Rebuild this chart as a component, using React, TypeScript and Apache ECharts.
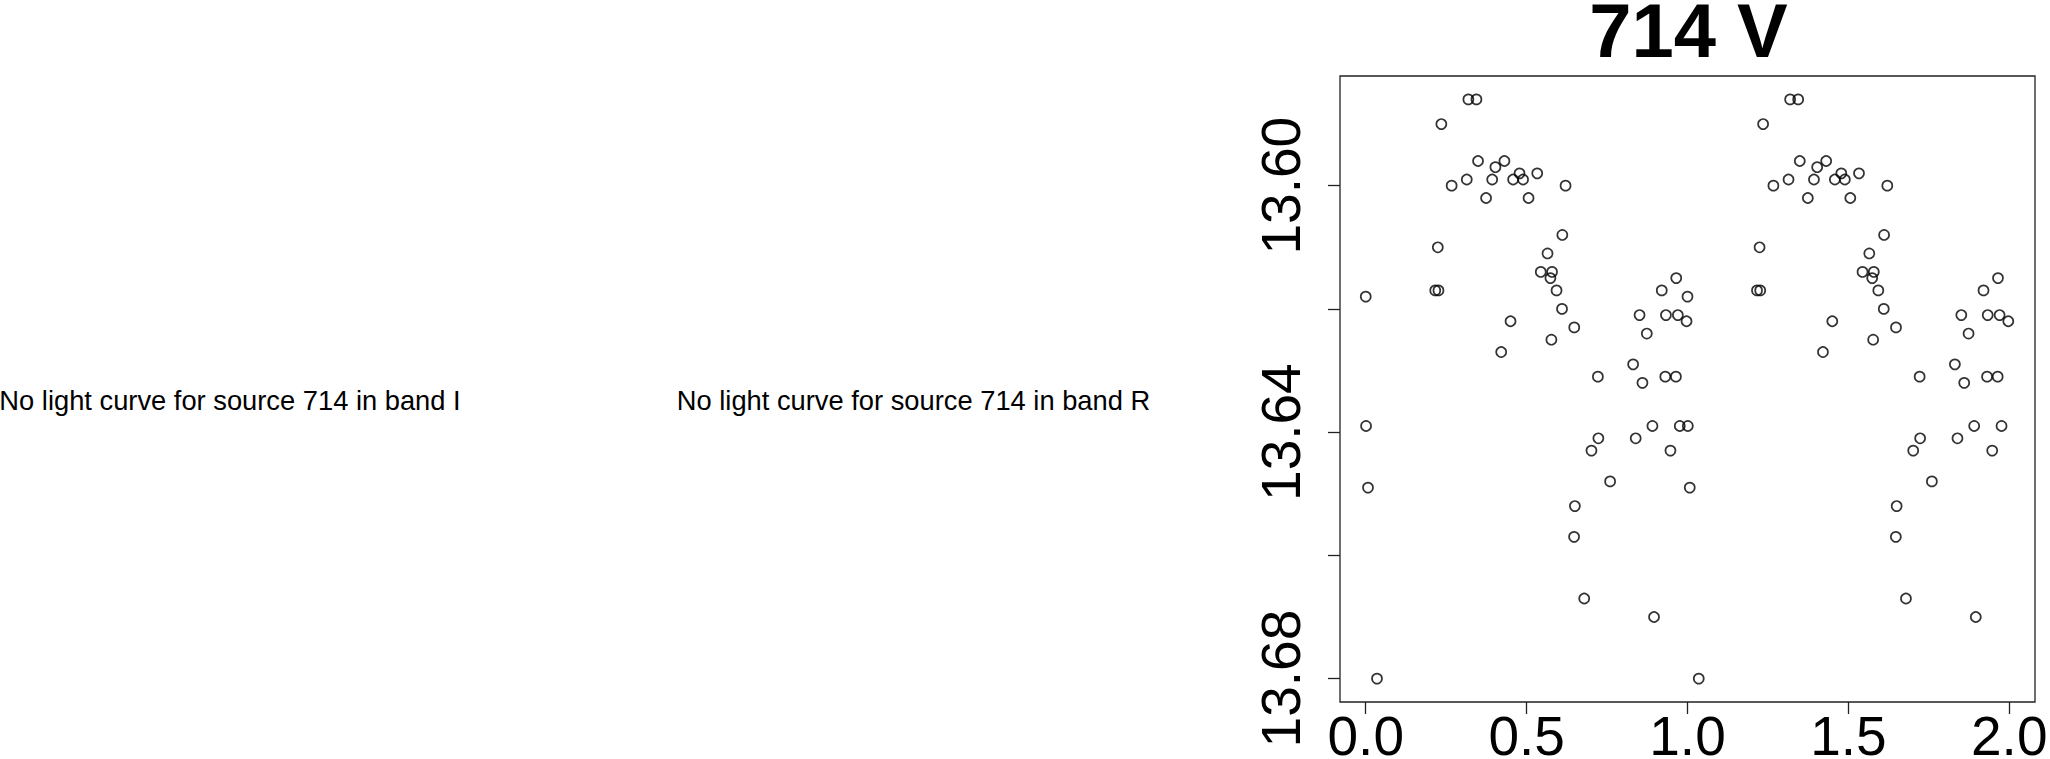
import React, { useEffect, useRef } from "react";
import * as echarts from "echarts";

// Phase-folded V-band light curve of source 714 (phase, magnitude)
const phases: number[] = [
  0.000, 0.001, 0.007, 0.035, 0.216, 0.226, 0.224, 0.235, 0.267, 0.314,
  0.319, 0.344, 0.349, 0.374, 0.393, 0.403, 0.431, 0.421, 0.450, 0.458,
  0.478, 0.489, 0.506, 0.533, 0.544, 0.565, 0.574, 0.579, 0.577, 0.593,
  0.610, 0.611, 0.621, 0.648, 0.650, 0.6475, 0.679, 0.7015, 0.7215, 0.723,
  0.7595, 0.831, 0.839, 0.851, 0.860, 0.8735, 0.891, 0.896, 0.920, 0.931,
  0.933, 0.947, 0.964, 0.965, 0.970, 0.976, 0.997,
];
const mags: number[] = [
  13.618, 13.639, 13.649, 13.680, 13.617, 13.617, 13.610, 13.590, 13.600, 13.599,
  13.586, 13.586, 13.596, 13.602, 13.599, 13.597, 13.596, 13.627, 13.622, 13.599,
  13.598, 13.599, 13.602, 13.598, 13.614, 13.611, 13.615, 13.614, 13.625, 13.617,
  13.620, 13.608, 13.600, 13.623, 13.652, 13.657, 13.667, 13.643, 13.631, 13.641,
  13.648, 13.629, 13.641, 13.621, 13.632, 13.624, 13.639, 13.670, 13.617, 13.631,
  13.621, 13.643, 13.631, 13.615, 13.621, 13.639, 13.622,
];

const xTicks: number[] = [0, 0.5, 1, 1.5, 2];
const yTicks: number[] = [13.6, 13.62, 13.64, 13.66, 13.68];
const yLabels: number[] = [13.6, 13.64, 13.68];

const title = "714 V";
const missingI = "No light curve for source 714 in band I";
const missingR = "No light curve for source 714 in band R";

const FONT = '"Liberation Sans", Arial, Helvetica, sans-serif';

export default function App() {
  const ref = useRef<HTMLDivElement>(null);

  useEffect(() => {
    document.body.style.margin = "0";
    document.body.style.overflow = "hidden";
    if (!ref.current) return;
    const chart = echarts.init(ref.current, null, { renderer: "svg" });

    const points: number[][] = [];
    phases.forEach((p, i) => points.push([p, mags[i]]));
    phases.forEach((p, i) => points.push([p + 1, mags[i]]));

    chart.setOption({
      animation: false,
      backgroundColor: "#fff",
      grid: {
        left: 1340,
        top: 76,
        width: 695,
        height: 626,
        show: true,
        borderColor: "#222",
        borderWidth: 1.3,
        backgroundColor: "transparent",
        containLabel: false,
        outerBoundsMode: "none",
      },
      xAxis: {
        type: "value",
        min: -0.08,
        max: 2.08,
        axisLine: { show: false, onZero: false },
        splitLine: { show: false },
        axisTick: {
          show: true,
          length: 12,
          customValues: xTicks,
          lineStyle: { color: "#222", width: 1.3 },
        },
        axisLabel: {
          customValues: xTicks,
          formatter: (v: number) => v.toFixed(1),
          fontSize: 55,
          fontFamily: FONT,
          color: "#000",
          margin: 6,
        },
      },
      yAxis: {
        type: "value",
        inverse: true,
        min: 13.5822,
        max: 13.6838,
        axisLine: { show: false, onZero: false },
        splitLine: { show: false },
        axisTick: {
          show: true,
          length: 12,
          customValues: yTicks,
          lineStyle: { color: "#222", width: 1.3 },
        },
        axisLabel: {
          customValues: yLabels,
          formatter: (v: number) => v.toFixed(2),
          fontSize: 55,
          fontFamily: FONT,
          color: "#000",
          rotate: 90,
          margin: 32,
        },
      },
      series: [
        {
          type: "scatter",
          data: points,
          symbol: "circle",
          symbolSize: 10,
          itemStyle: {
            color: "rgba(0,0,0,0)",
            borderColor: "#000",
            borderWidth: 1.7,
          },
          emphasis: { disabled: true },
        },
      ],
      graphic: [
        {
          type: "text",
          x: 1688.5,
          y: 30,
          style: {
            text: title,
            font: `bold 76px ${FONT}`,
            fill: "#000",
            align: "center",
            verticalAlign: "middle",
          },
        },
        {
          type: "text",
          x: 230,
          y: 400,
          style: {
            text: missingI,
            font: `27.3px ${FONT}`,
            fill: "#000",
            align: "center",
            verticalAlign: "middle",
          },
        },
        {
          type: "text",
          x: 913.5,
          y: 400,
          style: {
            text: missingR,
            font: `27.3px ${FONT}`,
            fill: "#000",
            align: "center",
            verticalAlign: "middle",
          },
        },
      ],
    });

    return () => chart.dispose();
  }, []);

  return <div ref={ref} style={{ width: 2050, height: 759 }} />;
}
